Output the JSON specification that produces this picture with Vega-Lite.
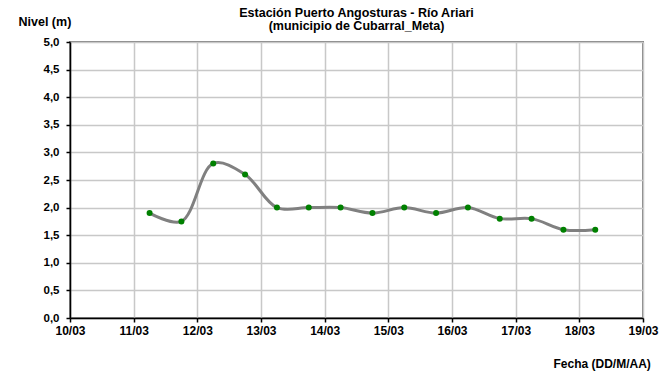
{
  "$schema": "https://vega.github.io/schema/vega-lite/v6.json",
  "width": 573,
  "height": 276,
  "autosize": {"type": "none"},
  "padding": {"left": 70, "top": 42, "right": 17, "bottom": 59},
  "background": "white",
  "title": {
    "text": ["Estación Puerto Angosturas - Río Ariari", "(municipio de Cubarral_Meta)"],
    "font": "Liberation Sans",
    "fontSize": 12.5,
    "fontWeight": "bold",
    "color": "black",
    "anchor": "middle",
    "offset": -17,
    "lineHeight": 13
  },
  "data": {
    "values": [
      {"fecha": "2024-03-11T06:00:00Z", "nivel": 1.9},
      {"fecha": "2024-03-11T18:00:00Z", "nivel": 1.75},
      {"fecha": "2024-03-12T06:00:00Z", "nivel": 2.8},
      {"fecha": "2024-03-12T18:00:00Z", "nivel": 2.6},
      {"fecha": "2024-03-13T06:00:00Z", "nivel": 2.0},
      {"fecha": "2024-03-13T18:00:00Z", "nivel": 2.0},
      {"fecha": "2024-03-14T06:00:00Z", "nivel": 2.0},
      {"fecha": "2024-03-14T18:00:00Z", "nivel": 1.9},
      {"fecha": "2024-03-15T06:00:00Z", "nivel": 2.0},
      {"fecha": "2024-03-15T18:00:00Z", "nivel": 1.9},
      {"fecha": "2024-03-16T06:00:00Z", "nivel": 2.0},
      {"fecha": "2024-03-16T18:00:00Z", "nivel": 1.8},
      {"fecha": "2024-03-17T06:00:00Z", "nivel": 1.8},
      {"fecha": "2024-03-17T18:00:00Z", "nivel": 1.6},
      {"fecha": "2024-03-18T06:00:00Z", "nivel": 1.6}
    ]
  },
  "encoding": {
    "x": {
      "field": "fecha",
      "type": "temporal",
      "scale": {
        "type": "utc",
        "domain": [
          {"year": 2024, "month": 3, "date": 10, "utc": true},
          {"year": 2024, "month": 3, "date": 19, "utc": true}
        ]
      },
      "axis": {
        "title": "Fecha (DD/M/AA)",
        "format": "%d/%m",
        "values": [
          {"year": 2024, "month": 3, "date": 10, "utc": true},
          {"year": 2024, "month": 3, "date": 11, "utc": true},
          {"year": 2024, "month": 3, "date": 12, "utc": true},
          {"year": 2024, "month": 3, "date": 13, "utc": true},
          {"year": 2024, "month": 3, "date": 14, "utc": true},
          {"year": 2024, "month": 3, "date": 15, "utc": true},
          {"year": 2024, "month": 3, "date": 16, "utc": true},
          {"year": 2024, "month": 3, "date": 17, "utc": true},
          {"year": 2024, "month": 3, "date": 18, "utc": true},
          {"year": 2024, "month": 3, "date": 19, "utc": true}
        ],
        "labelOverlap": false,
        "labelFlush": false,
        "labelBound": false,
        "labelFontSize": 12,
        "labelPadding": 3,
        "titleAlign": "left",
        "titleBaseline": "middle",
        "titleX": 483,
        "titleY": 45,
        "titleFontSize": 12
      }
    },
    "y": {
      "field": "nivel",
      "type": "quantitative",
      "scale": {"domain": [0, 5], "nice": false, "zero": true},
      "axis": {
        "title": "Nivel (m)",
        "values": [0, 0.5, 1, 1.5, 2, 2.5, 3, 3.5, 4, 4.5, 5],
        "labelExpr": "replace(format(datum.value, '.1f'), '.', ',')",
        "labelFontSize": 11.5,
        "labelPadding": 7,
        "titleAngle": 0,
        "titleAlign": "left",
        "titleBaseline": "middle",
        "titleX": -52,
        "titleY": -21,
        "titleFontSize": 12.5
      }
    }
  },
  "layer": [
    {
      "mark": {"type": "line", "interpolate": "catmull-rom", "color": "#808080", "strokeWidth": 3}
    },
    {
      "mark": {"type": "point", "filled": true, "color": "#008000", "size": 36, "opacity": 1}
    }
  ],
  "config": {
    "font": "Liberation Sans",
    "view": {"stroke": "#808080", "strokeWidth": 2},
    "axis": {
      "labelFont": "Liberation Sans",
      "labelFontWeight": "bold",
      "labelColor": "black",
      "titleFont": "Liberation Sans",
      "titleFontWeight": "bold",
      "titleColor": "black",
      "domainColor": "black",
      "domainWidth": 1.5,
      "tickColor": "black",
      "tickSize": 4,
      "tickWidth": 1.5,
      "gridColor": "#c8c8c8",
      "gridWidth": 1.5,
      "gridOpacity": 1
    }
  }
}
